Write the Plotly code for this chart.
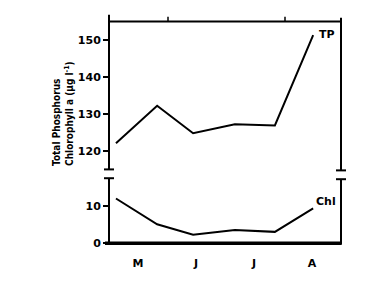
import plotly.graph_objects as go

W, H = 388, 289

# data (x in months from 1 May)
months_x = [0.12, 0.83, 1.45, 2.17, 2.86, 3.52]
tp = [122.1, 132.2, 124.8, 127.2, 126.9, 151.3]
chl = [12.2, 5.1, 2.2, 3.5, 3.0, 9.5]
month_labels = ["M", "J", "J", "A"]
month_pos = [0.5, 1.5, 2.5, 3.5]
tp_ticks = [120, 130, 140, 150]
chl_ticks = [0, 10]

def px(x):
    return x / W

def py(y):
    return 1 - y / H

fig = go.Figure()
fig.add_trace(go.Scatter(x=months_x, y=tp, mode="lines", line=dict(color="black", width=2),
                         xaxis="x", yaxis="y", showlegend=False))
fig.add_trace(go.Scatter(x=months_x, y=chl, mode="lines", line=dict(color="black", width=2),
                         xaxis="x", yaxis="y2", showlegend=False))

tickfont = dict(family="DejaVu Sans", size=11, color="black", weight="bold")

fig.update_layout(
    width=W, height=H, margin=dict(l=0, r=0, t=0, b=0),
    paper_bgcolor="white", plot_bgcolor="white",
    xaxis=dict(domain=[px(109), px(341)], range=[0, 4], anchor="y2",
               tickvals=month_pos, ticktext=month_labels, ticks="", tickfont=tickfont,
               showgrid=False, zeroline=False, showline=False, ticklabelstandoff=11),
    yaxis=dict(domain=[py(173), py(22)], range=[115, 155], anchor="x",
               tickvals=tp_ticks, ticks="outside", ticklen=5, tickwidth=2, tickcolor="black",
               tickfont=tickfont, showgrid=False, zeroline=False, showline=False),
    yaxis2=dict(domain=[py(249), py(182)], range=[-0.3, 17.8], anchor="x",
                tickvals=chl_ticks, ticks="outside", ticklen=5, tickwidth=2, tickcolor="black",
                tickfont=tickfont, showgrid=False, zeroline=False, showline=False),
)

lw = 2
def seg(x0, y0, x1, y1, w=lw):
    fig.add_shape(type="line", xref="paper", yref="paper",
                  x0=px(x0), y0=py(y0), x1=px(x1), y1=py(y1),
                  line=dict(color="black", width=w))

# left axis with break
seg(109, 15, 109, 173)
seg(104, 173, 114, 173)
seg(104, 182, 114, 182)
seg(109, 182, 109, 250)
# right axis with break
seg(341, 18, 341, 174)
seg(336, 174, 346, 174)
seg(336, 183, 346, 183)
seg(341, 183, 341, 250)
# top frame with month ticks
seg(109, 22, 341, 22)
seg(168, 17, 168, 22, 1.5)
seg(285, 17, 285, 22, 1.5)
# heavy bottom line
seg(105, 248.5, 341, 248.5, 3.5)

labfont = dict(family="DejaVu Sans", size=11, color="black", weight="bold")
fig.add_annotation(xref="paper", yref="paper", x=px(317), y=py(35), text="TP",
                   showarrow=False, font=labfont, xanchor="left", yanchor="middle")
fig.add_annotation(xref="paper", yref="paper", x=px(314), y=py(206), text="Chl",
                   showarrow=False, font=labfont, xanchor="left", yanchor="middle")

fig.add_annotation(xref="paper", yref="paper", x=px(63), y=py(172),
                   text="Total Phosphorus<br>Chlorophyll a (µg l<sup>-1</sup>)",
                   textangle=-90, showarrow=False, align="left",
                   xanchor="center", yanchor="bottom",
                   font=dict(family="DejaVu Sans Condensed", size=10, color="black", weight="bold"))

fig.write_html("out.html")
